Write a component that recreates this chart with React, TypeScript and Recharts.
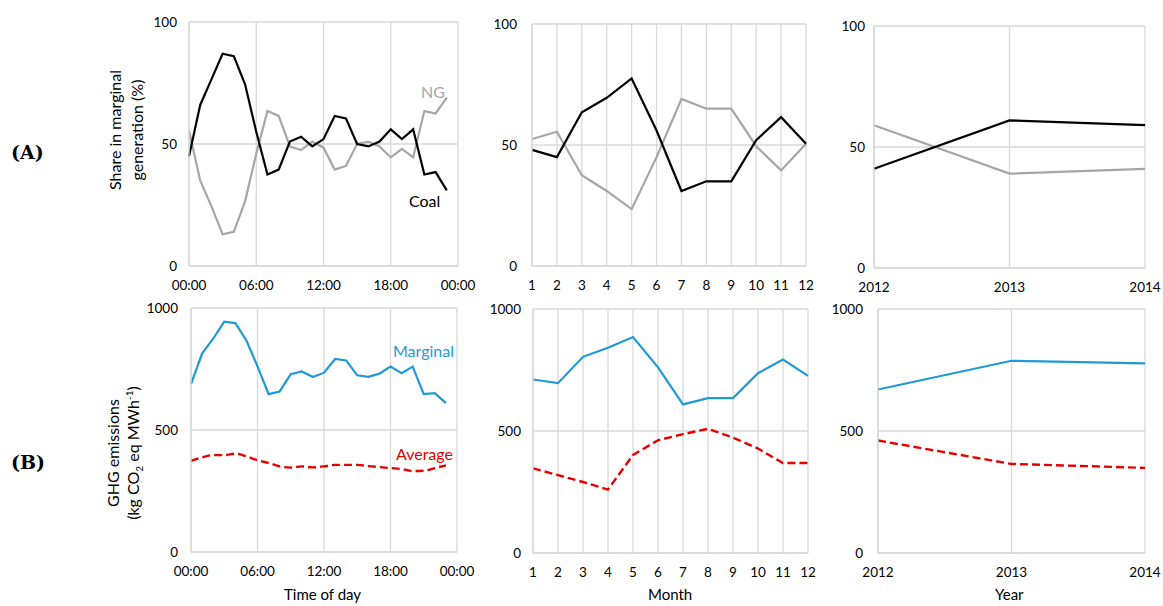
import React from 'react';
import { LineChart, Line, XAxis, YAxis, CartesianGrid } from 'recharts';

// hourly (time of day)
const HOURS = [0, 1, 2, 3, 4, 5, 6, 7, 8, 9, 10, 11, 12, 13, 14, 15, 16, 17, 18, 19, 20, 21, 22, 23];
const COAL_HOURLY = [45, 66, 76.5, 87, 86, 74.5, 55, 37.5, 39.5, 51, 53, 49, 52, 61.5, 60.5, 50, 49, 51, 56, 52, 56, 37.5, 38.5, 31];
const NG_HOURLY = [55.5, 35, 24.5, 13, 14, 26.5, 46, 63.5, 61.5, 49, 47.5, 51, 48.5, 39.5, 41, 50, 51, 49, 44.5, 48, 44.5, 63.5, 62.5, 69];
const MARGINAL_HOURLY = [688, 813, 874, 944, 938, 867, 761, 647, 658, 729, 740, 717, 735, 791, 785, 724, 718, 731, 760, 733, 760, 647, 651, 610];
const AVERAGE_HOURLY = [373, 388, 397, 397, 403, 392, 376, 365, 351, 346, 351, 347, 351, 357, 357, 357, 352, 348, 344, 340, 332, 333, 344, 355];
const HOUR_TICKS = [0, 6, 12, 18, 24];
const HOUR_LABELS = ['00:00', '06:00', '12:00', '18:00', '00:00'];

// monthly
const MONTHS = [1, 2, 3, 4, 5, 6, 7, 8, 9, 10, 11, 12];
const COAL_MONTHLY = [48, 45, 63.5, 69.5, 77.5, 56, 31, 35, 35, 52, 61.5, 50.5];
const NG_MONTHLY = [52.5, 55.5, 37.5, 31, 23.5, 45, 69, 65, 65, 49.5, 39.5, 50.5];
const MARGINAL_MONTHLY = [711, 696, 804, 841, 885, 761, 609, 635, 635, 737, 793, 726];
const AVERAGE_MONTHLY = [347, 319, 291, 260, 402, 462, 487, 509, 473, 428, 369, 369];

// yearly
const YEARS = [2012, 2013, 2014];
const COAL_YEARLY = [41, 61, 59];
const NG_YEARLY = [59, 39, 41];
const MARGINAL_YEARLY = [670, 788, 777];
const AVERAGE_YEARLY = [461, 365, 349];

const SHARE_TICKS = [0, 50, 100];
const GHG_TICKS = [0, 500, 1000];

const FONT = 'Lato, "Open Sans", sans-serif';
const GRID = '#d9d9d9';

const zip = (xs: number[], a: number[], b: number[]) => xs.map((x, i) => ({ x, a: a[i], b: b[i] }));

const hourlyShare = zip(HOURS, COAL_HOURLY, NG_HOURLY);
const monthlyShare = zip(MONTHS, COAL_MONTHLY, NG_MONTHLY);
const yearlyShare = zip(YEARS, COAL_YEARLY, NG_YEARLY);
const hourlyGhg = zip(HOURS, MARGINAL_HOURLY, AVERAGE_HOURLY);
const monthlyGhg = zip(MONTHS, MARGINAL_MONTHLY, AVERAGE_MONTHLY);
const yearlyGhg = zip(YEARS, MARGINAL_YEARLY, AVERAGE_YEARLY);

interface PanelProps {
  left: number;
  top: number;
  right: number;
  bottom: number;
  data: { x: number; a: number; b: number }[];
  xTicks: number[];
  xLabels?: string[];
  yTicks: number[];
  ghg?: boolean;
  smoothB?: boolean;
  yGap?: number;
}

const YW = 50;
const PAD_T = 12;
const PAD_R = 24;
const XH = 34;

const Panel: React.FC<PanelProps> = ({ left, top, right, bottom, data, xTicks, xLabels, yTicks, ghg, smoothB, yGap = 12 }) => {
  const plotW = right - left;
  const plotH = bottom - top;
  const tick = { fill: '#000', fontSize: 13.5, fontFamily: FONT };
  return (
    <div style={{ position: 'absolute', left: left - YW, top: top - PAD_T }}>
      <LineChart
        width={YW + plotW + PAD_R}
        height={PAD_T + plotH + XH}
        data={data}
        margin={{ top: PAD_T, right: PAD_R, bottom: 0, left: 0 }}
      >
        <CartesianGrid stroke={GRID} strokeWidth={1.3} />
        <XAxis
          dataKey="x"
          type="number"
          domain={[xTicks[0], xTicks[xTicks.length - 1]]}
          ticks={xTicks}
          interval={0}
          tickFormatter={(v: number) => (xLabels ? xLabels[xTicks.indexOf(v)] : String(v))}
          tick={tick}
          tickLine={false}
          tickMargin={8}
          axisLine={{ stroke: GRID, strokeWidth: 1.3 }}
          height={XH}
        />
        <YAxis
          type="number"
          domain={[yTicks[0], yTicks[yTicks.length - 1]]}
          ticks={yTicks}
          interval={0}
          tick={tick}
          tickLine={false}
          tickMargin={yGap - 6}
          axisLine={{ stroke: GRID, strokeWidth: 1.3 }}
          width={YW}
        />
        {ghg ? (
          <>
            <Line dataKey="b" type={smoothB ? 'monotone' : 'linear'} stroke="#e60000" strokeWidth={2.4} strokeDasharray="8 4" dot={false} isAnimationActive={false} />
            <Line dataKey="a" type="linear" stroke="#1f9ad6" strokeWidth={2.2} dot={false} isAnimationActive={false} />
          </>
        ) : (
          <>
            <Line dataKey="b" type="linear" stroke="#a6a6a6" strokeWidth={2.2} dot={false} isAnimationActive={false} />
            <Line dataKey="a" type="linear" stroke="#000" strokeWidth={2.2} dot={false} isAnimationActive={false} />
          </>
        )}
      </LineChart>
    </div>
  );
};

const txt = (left: number, top: number, color: string, text: string, size = 16) => (
  <div style={{ position: 'absolute', left, top, color, fontSize: size, fontFamily: FONT, lineHeight: 1, whiteSpace: 'nowrap' }}>{text}</div>
);

export default function App() {
  return (
    <div style={{ position: 'fixed', left: 0, top: 0, width: 1163, height: 606, background: '#fff', overflow: 'hidden' }}>
      <Panel left={189} top={22} right={458} bottom={266} data={hourlyShare} xTicks={HOUR_TICKS} xLabels={HOUR_LABELS} yTicks={SHARE_TICKS} />
      <Panel left={532} top={24} right={806} bottom={266} data={monthlyShare} xTicks={MONTHS} yTicks={SHARE_TICKS} yGap={15} />
      <Panel left={874} top={26} right={1145} bottom={268} data={yearlyShare} xTicks={YEARS} yTicks={SHARE_TICKS} yGap={9} />
      <Panel left={191} top={308} right={457} bottom={552} data={hourlyGhg} xTicks={HOUR_TICKS} xLabels={HOUR_LABELS} yTicks={GHG_TICKS} ghg smoothB yGap={13} />
      <Panel left={533} top={309} right={808} bottom={553} data={monthlyGhg} xTicks={MONTHS} yTicks={GHG_TICKS} ghg yGap={12} />
      <Panel left={878} top={309} right={1145} bottom={553} data={yearlyGhg} xTicks={YEARS} yTicks={GHG_TICKS} ghg yGap={15} />

      {/* panel letters */}
      <div style={{ position: 'absolute', left: 11, top: 141, fontFamily: '"DejaVu Serif", serif', fontWeight: 'bold', fontSize: 19 }}>(A)</div>
      <div style={{ position: 'absolute', left: 11, top: 451, fontFamily: '"DejaVu Serif", serif', fontWeight: 'bold', fontSize: 19 }}>(B)</div>

      {/* series labels */}
      {txt(421, 84, '#a6a6a6', 'NG')}
      {txt(409, 193, '#000', 'Coal')}
      {txt(393, 343, '#1f9ad6', 'Marginal')}
      {txt(396, 446, '#e60000', 'Average')}

      {/* axis titles */}
      <div style={{ position: 'absolute', left: 26, top: 108, width: 200, height: 44, transform: 'rotate(-90deg)', textAlign: 'center', fontFamily: FONT, fontSize: 16, lineHeight: '22px' }}>
        Share in marginal<br />generation (%)
      </div>
      <div style={{ position: 'absolute', left: 24, top: 432, width: 200, height: 42, transform: 'rotate(-90deg)', textAlign: 'center', fontFamily: FONT, fontSize: 16, lineHeight: '20px' }}>
        GHG emissions<br />(kg CO<sub style={{ fontSize: 10, lineHeight: 0 }}>2</sub> eq MWh<sup style={{ fontSize: 10, lineHeight: 0 }}>-1</sup>)
      </div>
      {txt(284, 587, '#000', 'Time of day', 15)}
      {txt(648, 587, '#000', 'Month', 15)}
      {txt(995, 587, '#000', 'Year', 15)}
    </div>
  );
}
